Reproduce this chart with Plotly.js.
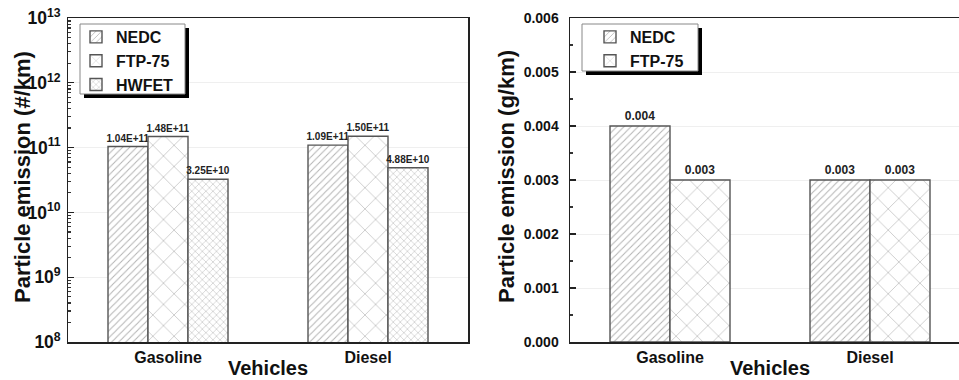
<!DOCTYPE html>
<html>
<head>
<meta charset="utf-8">
<script src="https://cdn.plot.ly/plotly-3.0.1.min.js"></script>
<style>
  html, body { margin: 0; padding: 0; background: #fff; }
  #chart { width: 959px; height: 380px; }
</style>
</head>
<body>
<div id="chart"></div>
<script>
// Vehicle categories shared by both panels
const vehicles = ['Gasoline', 'Diesel'];

// Particle number emission (#/km) per driving cycle
const pnNEDC  = [1.04e11, 1.09e11];
const pnFTP75 = [1.48e11, 1.50e11];
const pnHWFET = [3.25e10, 4.88e10];

// Particle mass emission (g/km) per driving cycle
const pmNEDC  = [0.004, 0.003];
const pmFTP75 = [0.003, 0.003];

const W = 959, H = 380;
const px = v => v / W;          // pixel -> paper x
const py = v => 1 - v / H;      // pixel -> paper y

const FONT = 'Liberation Sans, Arial, sans-serif';
const bold = (size, color) => ({ family: FONT, size: size, color: color || '#111', weight: 'bold' });

const outline = { color: '#555', width: 1.4 };
const hatch = {
  NEDC:  { shape: '/', size: 5,  solidity: 0.2,  fgcolor: '#b4b4b4', bgcolor: '#fff' },
  FTP75: { shape: 'x', size: 15, solidity: 0.08, fgcolor: '#b0b0b0', bgcolor: '#fff' },
  HWFET: { shape: 'x', size: 5,  solidity: 0.2,  fgcolor: '#b8b8b8', bgcolor: '#fff' }
};

const sci = arr => arr.map(v => v.toExponential(2).toUpperCase());
const fix3 = arr => arr.map(v => v.toFixed(3));

function barTrace(name, y, pattern, labels, xa, ya, legend, fontSize) {
  return {
    type: 'bar', name: name, x: vehicles, y: y,
    xaxis: xa, yaxis: ya, legend: legend,
    marker: { color: '#fff', line: outline, pattern: pattern },
    text: labels, textposition: 'outside', constraintext: 'none', cliponaxis: false,
    textfont: bold(fontSize, '#222'),
    hoverinfo: 'skip'
  };
}

const data = [
  barTrace('NEDC',   pnNEDC,  hatch.NEDC,  sci(pnNEDC),  'x',  'y',  'legend', 10),
  barTrace('FTP-75', pnFTP75, hatch.FTP75, sci(pnFTP75), 'x',  'y',  'legend', 10),
  barTrace('HWFET',  pnHWFET, hatch.HWFET, sci(pnHWFET), 'x',  'y',  'legend', 10),
  barTrace('NEDC',   pmNEDC,  hatch.NEDC,  fix3(pmNEDC), 'x2', 'y2', 'legend2', 12),
  barTrace('FTP-75', pmFTP75, hatch.FTP75, fix3(pmFTP75),'x2', 'y2', 'legend2', 12)
];

const axisLine = { showline: true, linecolor: '#222', linewidth: 1.5, zeroline: false };
const yDomain = [38 / H, 1 - 18 / H];

// Legend frames with a solid drop shadow
function legendFrame(x0, y0, x1, y1) {
  return [
    { type: 'rect', xref: 'paper', yref: 'paper', layer: 'above',
      x0: px(x0 + 4), x1: px(x1 + 4), y0: py(y0 + 4), y1: py(y1 + 4),
      fillcolor: '#000', line: { width: 0 } },
    { type: 'rect', xref: 'paper', yref: 'paper', layer: 'above',
      x0: px(x0), x1: px(x1), y0: py(y0), y1: py(y1),
      fillcolor: '#fff', line: { color: '#888', width: 1 } }
  ];
}

const legendBase = {
  bgcolor: 'rgba(0,0,0,0)', borderwidth: 0,
  font: bold(16, '#111'), xanchor: 'left', yanchor: 'top',
  tracegroupgap: 0
};

const layout = {
  width: W, height: H,
  margin: { l: 0, r: 0, t: 0, b: 0 },
  paper_bgcolor: '#fff', plot_bgcolor: '#fff',
  showlegend: true,
  barmode: 'group', bargap: 0.4, bargroupgap: 0,
  font: { family: FONT },
  xaxis: Object.assign({
    domain: [px(68), px(468)], anchor: 'y', type: 'category',
    range: [-0.5, 1.5], mirror: true, ticks: '', showgrid: false,
    tickfont: bold(16)
  }, axisLine),
  yaxis: Object.assign({
    domain: yDomain, anchor: 'x', type: 'log', range: [8, 13], dtick: 1,
    exponentformat: 'power', mirror: true,
    ticks: 'inside', ticklen: 6, tickcolor: '#222', tickwidth: 1.2,
    minor: { ticks: 'inside', ticklen: 3, dtick: 'D1', tickcolor: '#333', showgrid: false },
    showgrid: true, gridcolor: '#efefef', gridwidth: 1,
    ticklabelstandoff: 3,
    tickfont: bold(14)
  }, axisLine),
  xaxis2: Object.assign({
    domain: [px(570), 1], anchor: 'y2', type: 'category',
    range: [-0.5, 1.5 - 11 / 200], mirror: true, ticks: '', showgrid: false,
    tickfont: bold(16)
  }, axisLine),
  yaxis2: Object.assign({
    domain: yDomain, anchor: 'x2', range: [0, 0.006], dtick: 0.001,
    tickformat: '.3f', mirror: false,
    ticks: 'inside', ticklen: 6, tickcolor: '#222', tickwidth: 1.2,
    minor: { ticks: 'inside', ticklen: 3, dtick: 0.0005, tickcolor: '#333', showgrid: false },
    showgrid: true, gridcolor: '#efefef', gridwidth: 1,
    ticklabelstandoff: 7,
    tickfont: bold(14)
  }, axisLine),
  legend: Object.assign({ x: px(76), y: py(20) }, legendBase),
  legend2: Object.assign({ x: px(590), y: py(20) }, legendBase),
  shapes: [].concat(legendFrame(80, 24, 185, 94), legendFrame(582, 24, 698, 71)),
  annotations: [
    { text: 'Particle emission (#/km)', xref: 'paper', yref: 'paper',
      x: px(22), y: py(177), textangle: -90, showarrow: false,
      xanchor: 'center', yanchor: 'middle', font: bold(22) },
    { text: 'Particle emission (g/km)', xref: 'paper', yref: 'paper',
      x: px(506), y: py(177), textangle: -90, showarrow: false,
      xanchor: 'center', yanchor: 'middle', font: bold(22) },
    { text: 'Vehicles', xref: 'x', yref: 'paper', x: 0.5, y: py(368),
      showarrow: false, xanchor: 'center', yanchor: 'middle', font: bold(20) },
    { text: 'Vehicles', xref: 'x2', yref: 'paper', x: 0.5, y: py(368),
      showarrow: false, xanchor: 'center', yanchor: 'middle', font: bold(20) }
  ]
};

Plotly.newPlot('chart', data, layout, { staticPlot: true, displayModeBar: false });
</script>
</body>
</html>
